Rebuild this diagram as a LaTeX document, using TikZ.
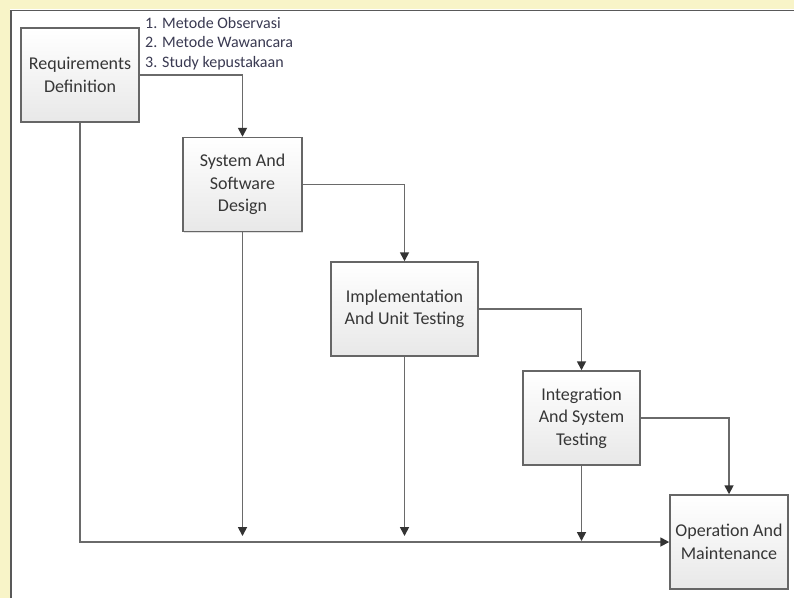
\documentclass[tikz,border=0pt]{standalone}
\usepackage{fontspec}
\setmainfont{Carlito}
\usetikzlibrary{arrows.meta,shadows}
\definecolor{linegray}{HTML}{6A6A6A}
\definecolor{boxline}{HTML}{666666}
\definecolor{txtgray}{HTML}{363636}
\definecolor{tipgray}{HTML}{333333}
\definecolor{lbl}{HTML}{3A3A52}
\definecolor{wmark}{HTML}{F8F4C8}
\tikzset{
  stagebox/.style={draw=boxline, line width=1.5pt, top color=white, bottom color=black!9,
    minimum width=#1, minimum height=94pt, inner sep=0pt, align=center,
    font=\fontsize{18}{22.5}\selectfont, text=txtgray,
    drop shadow={shadow xshift=1.2pt, shadow yshift=-1.2pt, opacity=0.25}},
  conn/.style={draw=linegray, line width=1.7pt},
  arr/.style={conn, -{Triangle[length=9pt,width=9pt,fill=tipgray,color=tipgray]}},
  frameline/.style={draw=black!65, line width=1.5pt}
}
\begin{document}
\begin{tikzpicture}[x=1pt,y=-1pt]
\useasboundingbox (0,0) rectangle (794,598);
\fill[white] (0,0) rectangle (794,598);
\fill[wmark] (0,0) rectangle (794,9);
\fill[wmark] (0,0) rectangle (10,598);
\draw[frameline] (11,598) -- (11,10.5) -- (794,10.5);

\node[stagebox=118pt] (req) at (80,75) {Requirements\\Definition};
\node[stagebox=119pt] (sys) at (242.5,184.5) {System And\\Software\\Design};
\node[stagebox=147pt] (imp) at (404.5,309) {Implementation\\And Unit Testing};
\node[stagebox=117pt] (int) at (581.5,418) {Integration\\And System\\Testing};
\node[stagebox=118pt] (op) at (729,542) {Operation And\\Maintenance};

\node[anchor=west, align=left, inner sep=0pt, text=lbl,
  font=\fontsize{16}{19.5}\selectfont] (notes) at (145,43.5)
  {1. Metode Observasi\\2. Metode Wawancara\\3. Study kepustakaan};

\coordinate (sysend) at (242.5,536);
\coordinate (impend) at (404.5,536);
\coordinate (intend) at (581.5,541);

\draw[arr] (req.east) -| (sys.north);
\draw[arr] (sys.east) -| (imp.north);
\draw[arr] (imp.east) -| (int.north);
\draw[arr] (int.east) -| (op.north);
\draw[arr] (req.south) |- (op.west);
\draw[arr] (sys.south) -- (sysend);
\draw[arr] (imp.south) -- (impend);
\draw[arr] (int.south) -- (intend);
\end{tikzpicture}
\end{document}
